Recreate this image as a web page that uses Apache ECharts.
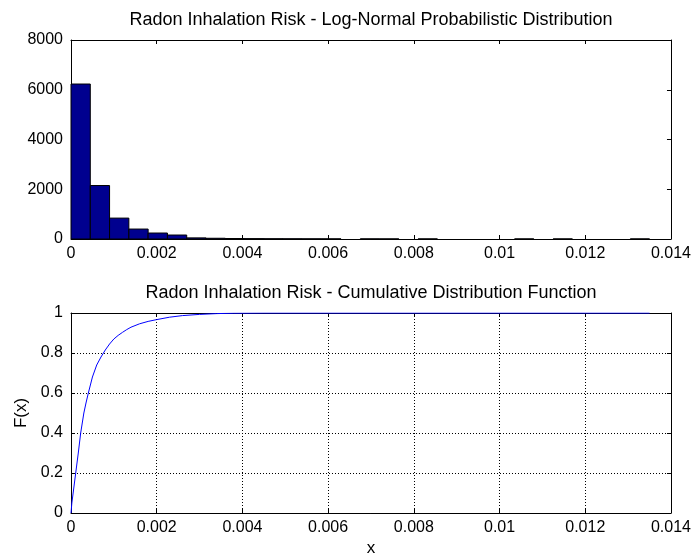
<!DOCTYPE html>
<html>
<head>
<meta charset="utf-8">
<script src="https://cdn.jsdelivr.net/npm/echarts@6/dist/echarts.min.js"></script>
<style>
  html, body { margin: 0; padding: 0; background: #fff; }
  #main { width: 694px; height: 558px; }
</style>
</head>
<body>
<div id="main"></div>
<script>
// histogram: 30 equal bins starting at 0
var binWidth = 0.00045;
var binCounts = [6230, 2150, 840, 400, 240, 160, 45, 30, 20, 14,
                 10, 8, 6, 5, 0, 4, 3, 0, 3, 0,
                 0, 0, 0, 2, 0, 2, 0, 0, 0, 2];

var cdfX = [0, 0.00002, 0.00005, 0.00008, 0.00011, 0.00017, 0.000226, 0.0003, 0.00035, 0.000405,
            0.0005, 0.0006, 0.0007, 0.0008, 0.0009, 0.001, 0.0011, 0.0012, 0.0013, 0.0014,
            0.0016, 0.0018, 0.002, 0.0023, 0.0026, 0.003, 0.0034, 0.0038, 0.0045, 0.0135];
var cdfF = [0, 0.05, 0.1, 0.15, 0.2, 0.3, 0.4, 0.5, 0.55, 0.6,
            0.68, 0.74, 0.78, 0.815, 0.845, 0.87, 0.888, 0.903, 0.917, 0.929,
            0.946, 0.958, 0.967, 0.979, 0.987, 0.993, 0.997, 0.999, 1, 1];

var xTicks = [0, 0.002, 0.004, 0.006, 0.008, 0.01, 0.012, 0.014];
var countTicks = [0, 2000, 4000, 6000, 8000];
var probTicks = [0, 0.2, 0.4, 0.6, 0.8, 1];

var FONT = 'Liberation Sans';
var chart = echarts.init(document.getElementById('main'));

var histData = [];
binCounts.forEach(function (c, i) {
    if (c > 0) histData.push([i * binWidth, (i + 1) * binWidth, c]);
});
var cdfData = cdfX.map(function (x, i) { return [x, cdfF[i]]; });

function plain(v) { return String(v); }

function xAxisOf(grid, pos, main, grid2) {
    return {
        type: 'value', gridIndex: grid, position: pos,
        min: xTicks[0], max: xTicks[xTicks.length - 1], interval: xTicks[1] - xTicks[0],
        axisLine: { show: true, onZero: false, lineStyle: { color: '#000', width: 1 } },
        axisTick: { show: true, inside: true, length: 4, lineStyle: { color: '#000' } },
        axisLabel: { show: main, color: '#000', fontFamily: FONT, fontSize: 16, margin: 7, formatter: plain },
        splitLine: { show: grid2 && main, lineStyle: { color: '#000', type: [1, 2] } },
        name: (grid === 1 && main) ? 'x' : '',
        nameLocation: 'middle', nameGap: 27,
        nameTextStyle: { color: '#000', fontFamily: FONT, fontSize: 17 }
    };
}
function yAxisOf(grid, pos, main, ticks, grid2) {
    return {
        type: 'value', gridIndex: grid, position: pos,
        min: ticks[0], max: ticks[ticks.length - 1], interval: ticks[1] - ticks[0],
        axisLine: { show: true, onZero: false, lineStyle: { color: '#000', width: 1 } },
        axisTick: { show: true, inside: true, length: 4, lineStyle: { color: '#000' } },
        axisLabel: { show: main, color: '#000', fontFamily: FONT, fontSize: 16, margin: 8, formatter: plain },
        splitLine: { show: grid2 && main, lineStyle: { color: '#000', type: [1, 2] } },
        name: (grid === 1 && main) ? 'F(x)' : '',
        nameLocation: 'middle', nameGap: 40,
        nameTextStyle: { color: '#000', fontFamily: FONT, fontSize: 17 }
    };
}

var option = {
    animation: false,
    backgroundColor: '#fff',
    textStyle: { fontFamily: FONT },
    grid: [
        { left: 71, right: 23, top: 40, height: 199 },
        { left: 71, right: 23, top: 313, height: 200 }
    ],
    graphic: [
        { type: 'text', x: 371, y: 20, style: { text: 'Radon Inhalation Risk - Log-Normal Probabilistic Distribution',
          fill: '#000', font: '18px "Liberation Sans"', textAlign: 'center', textVerticalAlign: 'middle' } },
        { type: 'text', x: 371, y: 293, style: { text: 'Radon Inhalation Risk - Cumulative Distribution Function',
          fill: '#000', font: '18px "Liberation Sans"', textAlign: 'center', textVerticalAlign: 'middle' } }
    ],
    xAxis: [
        xAxisOf(0, 'bottom', true, false),
        xAxisOf(0, 'top', false, false),
        xAxisOf(1, 'bottom', true, true),
        xAxisOf(1, 'top', false, true)
    ],
    yAxis: [
        yAxisOf(0, 'left', true, countTicks, false),
        yAxisOf(0, 'right', false, countTicks, false),
        yAxisOf(1, 'left', true, probTicks, true),
        yAxisOf(1, 'right', false, probTicks, true)
    ],
    series: [
        {
            type: 'custom',
            xAxisIndex: 0, yAxisIndex: 0,
            encode: { x: [0, 1], y: 2 },
            data: histData,
            renderItem: function (params, api) {
                var p0 = api.coord([api.value(0), api.value(2)]);
                var p1 = api.coord([api.value(1), 0]);
                return {
                    type: 'rect',
                    shape: { x: p0[0], y: p0[1], width: p1[0] - p0[0], height: p1[1] - p0[1] },
                    style: { fill: '#00008f', stroke: '#000', lineWidth: 1 }
                };
            }
        },
        {
            type: 'line',
            xAxisIndex: 2, yAxisIndex: 2,
            data: cdfData,
            showSymbol: false,
            smooth: false,
            lineStyle: { color: '#0000ff', width: 1 },
            z: 5
        }
    ]
};
chart.setOption(option);
</script>
</body>
</html>
